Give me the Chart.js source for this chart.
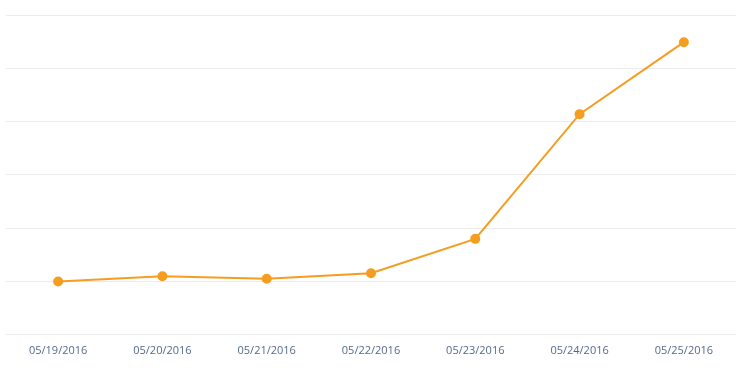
<!DOCTYPE html>
<html><head><meta charset="utf-8">
<script src="https://cdn.jsdelivr.net/npm/chart.js"></script>
<style>html,body{margin:0;padding:0;background:#fff}#w{width:753px;height:368px}</style>
</head><body><div id="w"><canvas id="c"></canvas></div>
<script>
const categories = ["05/19/2016","05/20/2016","05/21/2016","05/22/2016","05/23/2016","05/24/2016","05/25/2016"];
const values = [1.0, 1.1, 1.05, 1.155, 1.8, 4.14, 5.49];
new Chart(document.getElementById('c'), {
  type: 'line',
  data: { labels: categories, datasets: [{ data: values, borderColor: '#f59d20', backgroundColor: '#f59d20', borderWidth: 2, pointRadius: 4, pointHoverRadius: 4, tension: 0, fill: false }] },
  options: {
    responsive: true, maintainAspectRatio: false, animation: false,
    layout: { padding: { left: 5, right: 17, top: 15, bottom: 10 } },
    plugins: { legend: { display: false }, tooltip: { enabled: false } },
    scales: {
      x: { offset: true, grid: { display: false }, border: { display: false },
           ticks: { color: '#54698d', font: { family: 'Open Sans', size: 11 }, padding: 1, maxRotation: 0 } },
      y: { min: 0, max: 6, ticks: { display: false, stepSize: 1 }, border: { display: false },
           grid: { color: '#ebebeb', drawTicks: false } }
    }
  }
});
</script></body></html>
